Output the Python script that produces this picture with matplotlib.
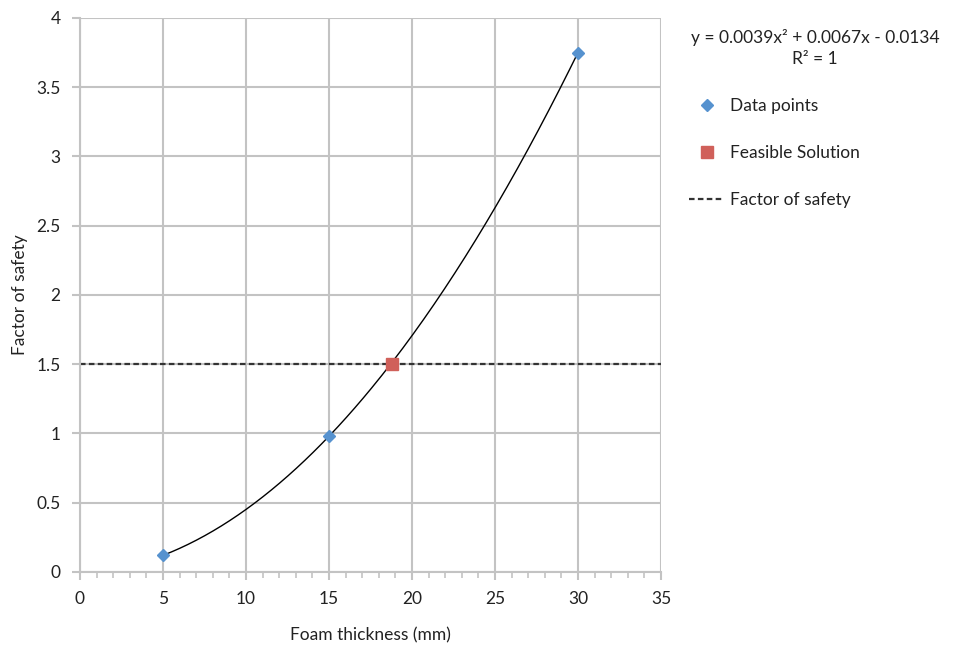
import numpy as np
import matplotlib.pyplot as plt
from matplotlib.ticker import MultipleLocator

plt.rcParams['font.family'] = ['Lato', 'DejaVu Sans']

# data
thickness = [5, 15, 30]
fos = [0.12, 0.98, 3.75]
feasible_x = [18.8]
feasible_y = [1.5]
fos_target = 1.5
equation = "y = 0.0039x\u00b2 + 0.0067x - 0.0134\nR\u00b2 = 1"

grid_c = '#c3c3c3'
blue = '#5692cf'
red = '#d0605a'

fig = plt.figure(figsize=(9.61, 6.48), dpi=100)
ax = fig.add_axes([0.0832, 0.1173, 0.6046, 0.855])

# quadratic trendline through the data
coef = np.polyfit(thickness, fos, 2)
xs = np.linspace(min(thickness), max(thickness), 200)
ax.plot(xs, np.polyval(coef, xs), color='black', lw=1.0, zorder=3)

ax.axhline(fos_target, color='#333333', lw=1.6, ls=(0, (2.5, 1.5)), zorder=2,
           label='Factor of safety')
ax.plot(thickness, fos, ls='none', marker='D', ms=6.5, color=blue,
        zorder=4, label='Data points')
ax.plot(feasible_x, feasible_y, ls='none', marker='s', ms=9, color=red,
        zorder=5, label='Feasible Solution')

ax.set_xlim(0, 35)
ax.set_ylim(0, 4)
ax.xaxis.set_major_locator(MultipleLocator(5))
ax.xaxis.set_minor_locator(MultipleLocator(1))
ax.set_yticks(np.arange(0, 4.01, 0.5))
ax.set_yticklabels(['0', '0.5', '1', '1.5', '2', '2.5', '3', '3.5', '4'])

ax.grid(True, which='major', color=grid_c, lw=1.5)
ax.set_axisbelow(True)
for s in ['top', 'right']:
    ax.spines[s].set_visible(False)
for s in ['left', 'bottom']:
    ax.spines[s].set_color(grid_c)
    ax.spines[s].set_linewidth(1.5)
ax.tick_params(which='major', direction='out', length=6, width=1.5,
               color=grid_c, labelsize=12.5, labelcolor='#222222', pad=8)
ax.tick_params(axis='x', which='minor', direction='out', length=4, width=1.2,
               color=grid_c)

ax.set_xlabel('Foam thickness (mm)', fontsize=12.5, color='#222222', labelpad=14)
ax.set_ylabel('Factor of safety', fontsize=12.5, color='#222222', labelpad=6)

fig.text(0.848, 0.926, equation, ha='center', va='center', fontsize=12.5,
         color='#222222', linespacing=1.45)

handles, labels = ax.get_legend_handles_labels()
order = [1, 2, 0]
fig.legend([handles[i] for i in order], [labels[i] for i in order],
           loc='upper left', bbox_to_anchor=(0.701, 0.873), frameon=False,
           fontsize=12.5, labelspacing=1.8, handlelength=2.0, handletextpad=0.35,
           labelcolor='#222222')

fig.savefig('out.png', dpi=100)
